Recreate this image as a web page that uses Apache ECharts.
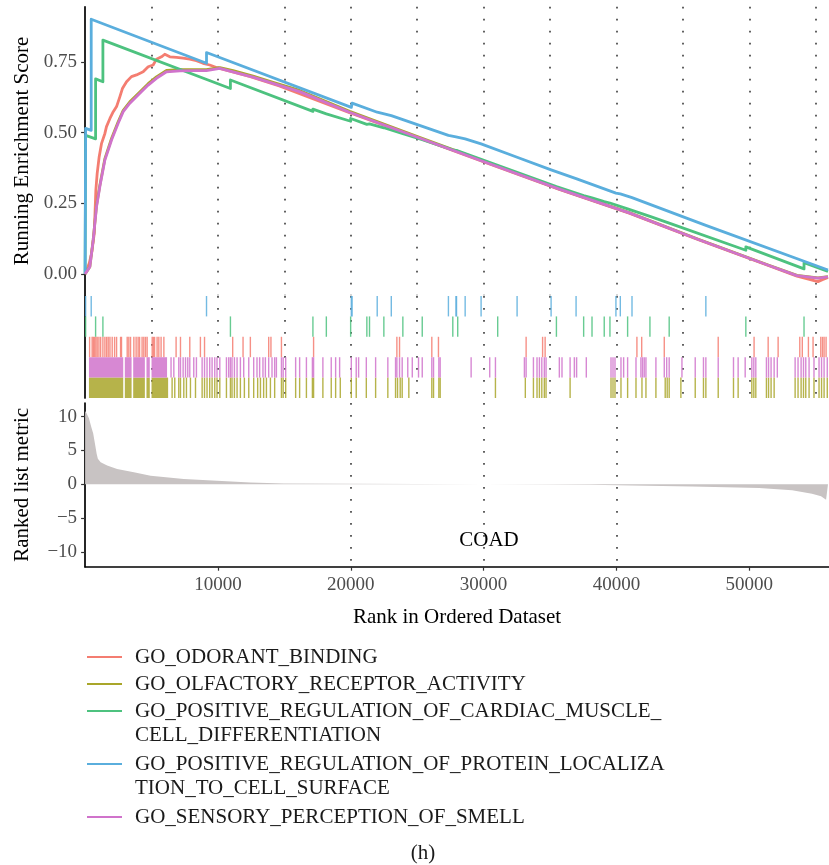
<!DOCTYPE html>
<html>
<head>
<meta charset="utf-8">
<script src="https://cdn.jsdelivr.net/npm/echarts@6/dist/echarts.min.js"></script>
<style>
  html, body { margin: 0; padding: 0; background: #ffffff; }
  #chart { width: 829px; height: 865px; }
</style>
</head>
<body>
<div id="chart"></div>
<script>
// ---- gene sets -------------------------------------------------------------
const setNames = [
  'GO_ODORANT_BINDING',
  'GO_OLFACTORY_RECEPTOR_ACTIVITY',
  'GO_POSITIVE_REGULATION_OF_CARDIAC_MUSCLE_\nCELL_DIFFERENTIATION',
  'GO_POSITIVE_REGULATION_OF_PROTEIN_LOCALIZA\nTION_TO_CELL_SURFACE',
  'GO_SENSORY_PERCEPTION_OF_SMELL'
];
const setColors = ['#F47D71', '#A9A62A', '#4DC27F', '#5AAEDD', '#D073CB'];

// ---- running enrichment score (rank, score) --------------------------------
const odorantRank = [1, 60, 310, 490, 690, 810, 910, 1060, 1240, 1490, 1610, 1870, 2120, 2370, 2620, 2820, 3120, 3490, 3870, 4370, 4750, 5120, 5370, 5750, 6000, 6380, 6880, 7380, 7880, 8380, 8880, 9380, 9890, 10260, 12440, 14620, 19910, 25170, 30440, 35700, 40960, 46220, 51480, 53590, 54450, 55170, 55500, 55925];
const odorantES = [0, 0.000, 0.038, 0.073, 0.144, 0.297, 0.356, 0.415, 0.462, 0.497, 0.521, 0.550, 0.574, 0.592, 0.627, 0.657, 0.680, 0.698, 0.704, 0.715, 0.733, 0.739, 0.759, 0.768, 0.777, 0.768, 0.766, 0.763, 0.760, 0.754, 0.745, 0.739, 0.730, 0.725, 0.698, 0.665, 0.570, 0.480, 0.389, 0.299, 0.215, 0.120, 0.029, -0.008, -0.018, -0.027, -0.020, -0.012];

const olfactoryRank = [1, 360, 610, 860, 1110, 1490, 1990, 2490, 2870, 3370, 4120, 4750, 5370, 6130, 7130, 8130, 9130, 10140, 11140, 12640, 14150, 16150, 19910, 25170, 30440, 35700, 40960, 46220, 51480, 53590, 55170, 55925];
const olfactoryES = [0, 0.026, 0.122, 0.242, 0.314, 0.408, 0.479, 0.538, 0.579, 0.609, 0.644, 0.673, 0.697, 0.720, 0.723, 0.723, 0.723, 0.730, 0.719, 0.700, 0.678, 0.649, 0.575, 0.483, 0.392, 0.301, 0.217, 0.122, 0.031, -0.005, -0.014, -0.009];

const cardiacRank = [1, 40, 40, 790, 790, 1340, 1340, 10940, 10940, 17150, 17150, 18160, 18160, 19990, 19990, 21210, 21210, 21410, 21410, 22490, 22490, 23920, 23920, 25380, 25380, 27680, 27680, 28050, 28050, 31060, 31060, 35480, 35480, 37530, 37530, 38160, 38160, 39080, 39080, 39510, 39510, 40840, 40840, 42520, 42520, 43970, 43970, 49740, 49740, 54120, 54120, 55925];
const cardiacES = [0, 0, 0.490, 0.478, 0.690, 0.680, 0.827, 0.656, 0.686, 0.575, 0.583, 0.566, 0.572, 0.540, 0.550, 0.529, 0.534, 0.531, 0.536, 0.517, 0.521, 0.496, 0.500, 0.475, 0.479, 0.439, 0.442, 0.436, 0.439, 0.384, 0.387, 0.309, 0.312, 0.277, 0.280, 0.269, 0.272, 0.256, 0.259, 0.251, 0.254, 0.230, 0.233, 0.204, 0.207, 0.180, 0.186, 0.084, 0.096, 0.018, 0.040, 0.009];

const proteinRank = [1, 40, 40, 460, 460, 9140, 9140, 20040, 20100, 21990, 21990, 23050, 23050, 27350, 27350, 27920, 27920, 27960, 27960, 28610, 28610, 29810, 29810, 32520, 32520, 35080, 35080, 36960, 36960, 39960, 39960, 40290, 40290, 41170, 41170, 46730, 46730, 55925];
const proteinES = [0, 0, 0.515, 0.508, 0.901, 0.745, 0.783, 0.589, 0.604, 0.572, 0.578, 0.560, 0.566, 0.490, 0.494, 0.485, 0.488, 0.487, 0.490, 0.478, 0.481, 0.460, 0.463, 0.413, 0.416, 0.368, 0.371, 0.337, 0.340, 0.286, 0.289, 0.283, 0.286, 0.270, 0.273, 0.172, 0.176, 0.014];

const smellRank = [1, 360, 610, 860, 1110, 1490, 1990, 2490, 2870, 3370, 4120, 4750, 5370, 6130, 7130, 8130, 9130, 10140, 11140, 12640, 14150, 16150, 19910, 25170, 30440, 35700, 40960, 46220, 51480, 53590, 55170, 55925];
const smellES = [0, 0.026, 0.120, 0.238, 0.309, 0.403, 0.474, 0.533, 0.574, 0.604, 0.639, 0.668, 0.692, 0.715, 0.718, 0.719, 0.719, 0.727, 0.715, 0.696, 0.674, 0.645, 0.572, 0.481, 0.390, 0.300, 0.216, 0.121, 0.030, -0.006, -0.015, -0.010];

// ---- gene-set hits along the ranked list -----------------------------------
const odorantHits = [340, 530, 620, 710, 810, 910, 1040, 1170, 1340, 1490, 1620, 1740, 1870, 2040, 2220, 2370, 2670, 2740, 3170, 3290, 3420, 3670, 3840, 3990, 4100, 4290, 4420, 4550, 4670, 5050, 5140, 5230, 5420, 5550, 5720, 5930, 6850, 7180, 7880, 8680, 8990, 11110, 11890, 12440, 13820, 13990, 14780, 17200, 23470, 23670, 26100, 26600, 33200, 34440, 34630, 41540, 41900, 43600, 47660, 50360, 51420, 52170, 53800, 53990, 54450, 54800, 55380, 55510, 55630, 55780];
const odorantRuns = [];

const olfactoryHits = [6550, 6750, 7050, 7180, 7430, 7630, 7930, 8310, 8810, 8990, 9180, 9380, 9560, 9760, 9930, 10140, 10640, 10940, 11060, 11240, 11440, 11690, 11990, 12320, 12690, 12990, 13200, 13440, 13650, 13950, 14270, 14780, 14910, 15100, 15850, 16150, 16660, 17110, 17200, 17900, 18530, 18860, 19210, 20040, 20410, 21170, 21870, 22790, 23370, 23520, 23720, 23870, 24370, 26100, 26230, 26630, 26730, 30890, 33140, 33750, 34020, 34200, 34380, 34570, 34700, 36510, 39590, 39740, 39890, 40340, 40840, 41470, 41920, 42220, 42970, 43670, 43820, 43970, 44850, 45930, 46550, 46730, 47660, 48810, 49160, 50190, 50340, 50490, 51290, 51450, 51640, 51870, 53450, 53670, 53900, 54080, 54250, 54500, 54870, 55250, 55440, 55630, 55870];
const olfactoryRuns = [[290, 2870], [2990, 3500], [3620, 4500], [4620, 4870], [5000, 6250]];

const cardiacHits = [40, 790, 1340, 10940, 17150, 18160, 19990, 21210, 21410, 22490, 23920, 25380, 27680, 28050, 31060, 35480, 37530, 38160, 39080, 39510, 40840, 42520, 43970, 49740, 54120];
const cardiacRuns = [];

const proteinHits = [40, 460, 9140, 20040, 20100, 21990, 23050, 27350, 27920, 27960, 28610, 29810, 32520, 35080, 36960, 39960, 40290, 41170, 46730];
const proteinRuns = [];

const smellHits = [6470, 6680, 7050, 7180, 7380, 7560, 7730, 7880, 8180, 8380, 8810, 8990, 9180, 9380, 9560, 9760, 9930, 10140, 10640, 10810, 10940, 11060, 11240, 11440, 11690, 11940, 12320, 12690, 12940, 13140, 13390, 13570, 13820, 14070, 14270, 14400, 14780, 14910, 15100, 15850, 16150, 16660, 17110, 17200, 17900, 18530, 18860, 19160, 20040, 20410, 20590, 21170, 21870, 22790, 23370, 23470, 23670, 23870, 24290, 24630, 25100, 25380, 26100, 26230, 26630, 26730, 29060, 30460, 30890, 33070, 33200, 33750, 34020, 34200, 34380, 34570, 34700, 35700, 35900, 36510, 36830, 37000, 37730, 39590, 39740, 39890, 40340, 40540, 40840, 41470, 41840, 41960, 42090, 42220, 42970, 43600, 43780, 43970, 44930, 45930, 46550, 46730, 47660, 48810, 49160, 49690, 50190, 50340, 50490, 51290, 51450, 51640, 51870, 52110, 53450, 53670, 53900, 54080, 54250, 54500, 54870, 55250, 55440, 55630, 55870];
const smellRuns = [[290, 2870], [2990, 3500], [3620, 4500], [4620, 4870], [5000, 6170]];

// ---- ranked list metric ----------------------------------------------------
const metricRank = [1, 110, 290, 460, 610, 740, 870, 960, 1170, 1660, 2410, 3670, 4930, 7430, 9930, 12440, 14950, 20000, 25000, 30000, 35000, 38000, 41190, 45700, 50740, 53220, 54720, 55400, 55780, 55925];
const metricValue = [10.8, 10.5, 9.75, 8.5, 7.5, 6.0, 4.5, 3.75, 3.25, 2.75, 2.25, 1.75, 1.25, 0.75, 0.5, 0.25, 0.1, 0.05, 0.02, 0.0, -0.03, -0.1, -0.2, -0.35, -0.55, -0.9, -1.4, -1.8, -2.3, -2.5];

// ---- axis ticks ------------------------------------------------------------
const rankTicks = [10000, 20000, 30000, 40000, 50000];
const esTicks = [0, 0.25, 0.5, 0.75];
const metricTicks = [-10, -5, 0, 5, 10];
const panelLabel = 'COAD';
const figureTag = '(h)';

// ---------------------------------------------------------------------------
const FONT = '"Liberation Serif", "DejaVu Serif", serif';
const RANK_MAX = 56000;
const PLOT_LEFT = 85.1;
const PLOT_WIDTH = 745.7;

const esSeries = [
  [odorantRank, odorantES],
  [olfactoryRank, olfactoryES],
  [cardiacRank, cardiacES],
  [proteinRank, proteinES],
  [smellRank, smellES]
];
const hitSeries = [
  [odorantHits, odorantRuns],
  [olfactoryHits, olfactoryRuns],
  [cardiacHits, cardiacRuns],
  [proteinHits, proteinRuns],
  [smellHits, smellRuns]
];
// stacking row of each set in the hit strip (0 = bottom)
const hitRow = [2, 0, 3, 4, 1];

const zip = (a, b) => a.map((v, i) => [v, b[i]]);

const dotted = {
  show: true,
  showMinLine: false,
  showMaxLine: false,
  lineStyle: { color: '#3a3a3a', width: 1.6, type: [1.8, 10.2] }
};

function rankAxis(gridIndex, bottom) {
  return {
    type: 'value', gridIndex, min: 0, max: RANK_MAX, interval: 5000,
    splitLine: dotted,
    axisLine: bottom ? { show: true, onZero: false, lineStyle: { color: '#000', width: 1.7 } } : { show: false },
    axisTick: bottom ? { show: true, customValues: rankTicks, length: 4, lineStyle: { color: '#333', width: 1.2 } } : { show: false },
    axisLabel: bottom ? {
      show: true, customValues: rankTicks, margin: 9,
      color: '#4d4d4d', fontFamily: FONT, fontSize: 19,
      formatter: v => String(v)
    } : { show: false },
    name: bottom ? 'Rank in Ordered Dataset' : '',
    nameLocation: 'middle', nameGap: 40,
    nameTextStyle: { color: '#000', fontFamily: FONT, fontSize: 21 }
  };
}

const series = [];

// ranked list metric (filled area)
series.push({
  type: 'line', xAxisIndex: 2, yAxisIndex: 2,
  data: zip(metricRank, metricValue),
  showSymbol: false, silent: true,
  lineStyle: { width: 0 },
  areaStyle: { color: '#C8C3C3', opacity: 1, origin: 0 },
  z: 2
});

// running enrichment score curves
esSeries.forEach(([r, s], i) => {
  series.push({
    type: 'line', name: setNames[i], xAxisIndex: 0, yAxisIndex: 0,
    data: zip(r, s), showSymbol: false, silent: true,
    lineStyle: { color: setColors[i], width: 2.8, join: 'round' },
    z: 3 + i
  });
});

// hit strip
hitSeries.forEach(([hits, runs], i) => {
  const row = hitRow[i];
  const color = setColors[i];
  const data = hits.map(h => [h, h]).concat(runs.map(r => [r[0], r[1]]));
  series.push({
    type: 'custom', xAxisIndex: 1, yAxisIndex: 1, silent: true,
    data,
    encode: { x: [0, 1] },
    renderItem(params, api) {
      const a = api.coord([api.value(0), row + 1]);
      const b = api.coord([api.value(1), row]);
      let w = b[0] - a[0];
      let x = a[0];
      if (w < 1.4) { x = a[0] - 0.7; w = 1.4; }
      return {
        type: 'rect',
        shape: { x, y: a[1], width: w, height: b[1] - a[1] },
        style: { fill: color, opacity: 0.85 }
      };
    },
    z: 3
  });
});

// legend drawn as graphic elements
const legendGraphics = [];
let legendY = 657;
setNames.forEach((name, i) => {
  legendGraphics.push({
    type: 'line', silent: true,
    shape: { x1: 87, y1: legendY, x2: 122, y2: legendY },
    style: { stroke: setColors[i], lineWidth: 2.2 }
  });
  legendGraphics.push({
    type: 'text', silent: true, x: 135, y: legendY - 12,
    style: {
      text: name, fill: '#1a1a1a', font: '21px ' + FONT,
      lineHeight: 24, verticalAlign: 'top'
    }
  });
  legendY += 27 + (name.split('\n').length - 1) * 26;
});

const option = {
  animation: false,
  backgroundColor: '#ffffff',
  grid: [
    { left: PLOT_LEFT, top: 6.75, width: PLOT_WIDTH, height: 288.45 },
    { left: PLOT_LEFT, top: 296, width: PLOT_WIDTH, height: 102 },
    { left: PLOT_LEFT, top: 403, width: PLOT_WIDTH, height: 163.7 }
  ],
  xAxis: [rankAxis(0, false), rankAxis(1, false), rankAxis(2, true)],
  yAxis: [
    {
      type: 'value', gridIndex: 0, min: -0.075, max: 0.945,
      splitLine: { show: false },
      axisLine: { show: true, onZero: false, lineStyle: { color: '#000', width: 1.7 } },
      axisTick: { show: true, customValues: esTicks, length: 4, lineStyle: { color: '#333', width: 1.2 } },
      axisLabel: {
        customValues: esTicks, margin: 8, color: '#4d4d4d', fontFamily: FONT, fontSize: 19,
        formatter: v => v.toFixed(2)
      },
      name: 'Running Enrichment Score', nameLocation: 'middle', nameGap: 52,
      nameTextStyle: { color: '#000', fontFamily: FONT, fontSize: 21 }
    },
    {
      type: 'value', gridIndex: 1, min: 0, max: 5,
      splitLine: { show: false },
      axisLine: { show: true, onZero: false, lineStyle: { color: '#000', width: 1.7 } },
      axisTick: { show: false }, axisLabel: { show: false }
    },
    {
      type: 'value', gridIndex: 2, min: -12.2, max: 12.0,
      splitLine: { show: false },
      axisLine: { show: true, onZero: false, lineStyle: { color: '#000', width: 1.7 } },
      axisTick: { show: true, customValues: metricTicks, length: 4, lineStyle: { color: '#333', width: 1.2 } },
      axisLabel: {
        customValues: metricTicks, margin: 8, color: '#4d4d4d', fontFamily: FONT, fontSize: 19,
        formatter: v => String(v).replace('-', '\u2212')
      },
      name: 'Ranked list metric', nameLocation: 'middle', nameGap: 52,
      nameTextStyle: { color: '#000', fontFamily: FONT, fontSize: 21 }
    }
  ],
  series,
  graphic: legendGraphics.concat([
    {
      type: 'text', silent: true, x: 489, y: 540,
      style: { text: panelLabel, fill: '#000', font: '21px ' + FONT, align: 'center', verticalAlign: 'middle' }
    },
    {
      type: 'text', silent: true, x: 423, y: 853,
      style: { text: figureTag, fill: '#1a1a1a', font: '21px ' + FONT, align: 'center', verticalAlign: 'middle' }
    }
  ])
};

const chart = echarts.init(document.getElementById('chart'), null, { renderer: 'canvas' });
chart.setOption(option);
</script>
</body>
</html>
